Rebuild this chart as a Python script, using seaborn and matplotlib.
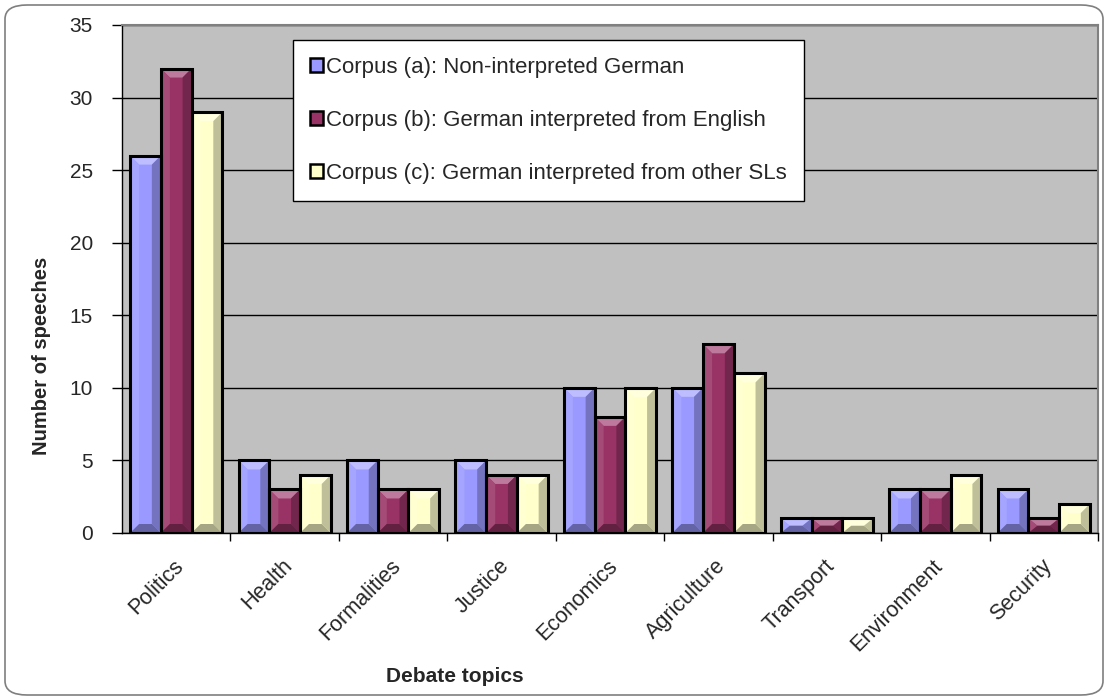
import matplotlib
matplotlib.use("Agg")
import matplotlib.pyplot as plt
import matplotlib.transforms as mtrans
import seaborn as sns
import pandas as pd
import numpy as np
from matplotlib.patches import FancyBboxPatch, Patch, Polygon, Rectangle
from matplotlib.colors import to_rgb

topics = ["Politics", "Health", "Formalities", "Justice", "Economics",
          "Agriculture", "Transport", "Environment", "Security"]
corpus_a = [26, 5, 5, 5, 10, 10, 1, 3, 3]
corpus_b = [32, 3, 3, 4, 8, 13, 1, 3, 1]
corpus_c = [29, 4, 3, 4, 10, 11, 1, 4, 2]
series_names = ["Corpus (a): Non-interpreted German",
                "Corpus (b): German interpreted from English",
                "Corpus (c): German interpreted from other SLs"]
colors = ["#9999FF", "#993366", "#FFFFCC"]

rows = []
for name, vals in zip(series_names, [corpus_a, corpus_b, corpus_c]):
    for t, v in zip(topics, vals):
        rows.append({"topic": t, "series": name, "value": v})
df = pd.DataFrame(rows)

sns.set_theme(style="white")
plt.rcParams['font.family'] = ['Liberation Sans', 'DejaVu Sans']

W, H = 1108, 700
fig = plt.figure(figsize=(W / 100, H / 100), dpi=100)
ax_l, ax_r, ax_t, ax_b = 122, 1098, 25, 533
ax = fig.add_axes([ax_l / W, 1 - ax_b / H, (ax_r - ax_l) / W, (ax_b - ax_t) / H])
ax.set_facecolor("#C0C0C0")

sns.barplot(data=df, x="topic", y="value", hue="series", order=topics,
            hue_order=series_names, palette=colors, width=0.85, saturation=1,
            edgecolor="none", linewidth=0, ax=ax, legend=False, zorder=3)

ax.set_ylim(0, 35)
ax.set_yticks(range(0, 36, 5))
ax.set_xlim(-0.5, len(topics) - 0.5)

# bevel shading derived from each bar patch
px_x = (len(topics)) / (ax_r - ax_l)
px_y = 35 / (ax_b - ax_t)
bev = 9


def mix(c, t, amt):
    c = np.array(to_rgb(c)); t = np.array(to_rgb(t))
    return tuple(c + (t - c) * amt)


bars = [p for p in ax.patches if isinstance(p, Rectangle) and p.get_height() > 0]
for p in bars:
    x0, y0 = p.get_x(), p.get_y()
    w, h = p.get_width(), p.get_height()
    base = p.get_facecolor()
    bx = bev * px_x
    by = min(bev * px_y, h / 2)
    bxs = min(bx, w / 2)
    x1, y1 = x0 + w, y0 + h
    polys = [
        ([(x0, y1), (x1, y1), (x1 - bxs, y1 - by), (x0 + bxs, y1 - by)], mix(base, "white", 0.35)),
        ([(x0, y0), (x0, y1), (x0 + bxs, y1 - by), (x0 + bxs, y0 + by)], mix(base, "white", 0.12)),
        ([(x1, y0), (x1, y1), (x1 - bxs, y1 - by), (x1 - bxs, y0 + by)], mix(base, "black", 0.25)),
        ([(x0, y0), (x1, y0), (x1 - bxs, y0 + by), (x0 + bxs, y0 + by)], mix(base, "black", 0.35)),
    ]
    for pts, col in polys:
        ax.add_patch(Polygon(pts, closed=True, facecolor=col, edgecolor="none", zorder=3.5))
    ax.add_patch(Rectangle((x0, y0), w, h, facecolor="none", edgecolor="black",
                           linewidth=2.2, zorder=4))

ax.yaxis.grid(True, color="black", linewidth=1, zorder=0)
ax.set_axisbelow(True)
for s in ["top", "right"]:
    ax.spines[s].set_color("#808080")
    ax.spines[s].set_linewidth(1.5)
for s in ["left", "bottom"]:
    ax.spines[s].set_color("black")
    ax.spines[s].set_linewidth(1)

ax.tick_params(axis="y", direction="out", length=7, width=1, color="black",
               labelsize=15, left=True, pad=14)
ax.set_xticks([i + 0.5 for i in range(len(topics))], minor=True)
ax.tick_params(axis="x", which="minor", direction="out", length=6, width=1,
               color="black", bottom=True)
ax.set_xticks(range(len(topics)))
ax.set_xticklabels(topics, rotation=45, ha="right", rotation_mode="anchor")
ax.tick_params(axis="x", which="major", length=0, labelsize=15.5, pad=16)
shift = mtrans.ScaledTranslation(-3 / 100, 0, fig.dpi_scale_trans)
for lab in ax.get_xticklabels():
    lab.set_transform(lab.get_transform() + shift)

ax.set_xlabel("Debate topics", fontsize=15, fontweight="bold")
ax.xaxis.set_label_coords((455 - ax_l) / (ax_r - ax_l), -(676 - ax_b) / (ax_b - ax_t))
ax.xaxis.label.set_va("center")
ax.set_ylabel("Number of speeches", fontsize=14.5, fontweight="bold")
ax.yaxis.set_label_coords(-(ax_l - 42) / (ax_r - ax_l), 1 - (356 - ax_t) / (ax_b - ax_t))
ax.yaxis.label.set_va("center")

handles = [Patch(facecolor=c, edgecolor="black", linewidth=1.8) for c in colors]
leg = ax.legend(handles, series_names, loc="upper left",
                bbox_to_anchor=((293 - ax_l) / (ax_r - ax_l), 1 - (40 - ax_t) / (ax_b - ax_t)),
                fontsize=16.0, frameon=True, fancybox=False, framealpha=1,
                handlelength=0.62, handleheight=0.62, handletextpad=0.12,
                labelspacing=1.45, borderpad=0.75, borderaxespad=0)
leg.get_frame().set_edgecolor("black")
leg.get_frame().set_linewidth(1)
leg.get_frame().set_facecolor("white")
leg.set_zorder(10)

border = FancyBboxPatch((5 / W, 5 / H), 1098 / W, 690 / H,
                        boxstyle="round,pad=0,rounding_size=0.02",
                        transform=fig.transFigure, facecolor="none",
                        edgecolor="#7F7F7F", linewidth=1.2)
fig.patches.append(border)

fig.savefig("out.png", dpi=100, facecolor="white")
